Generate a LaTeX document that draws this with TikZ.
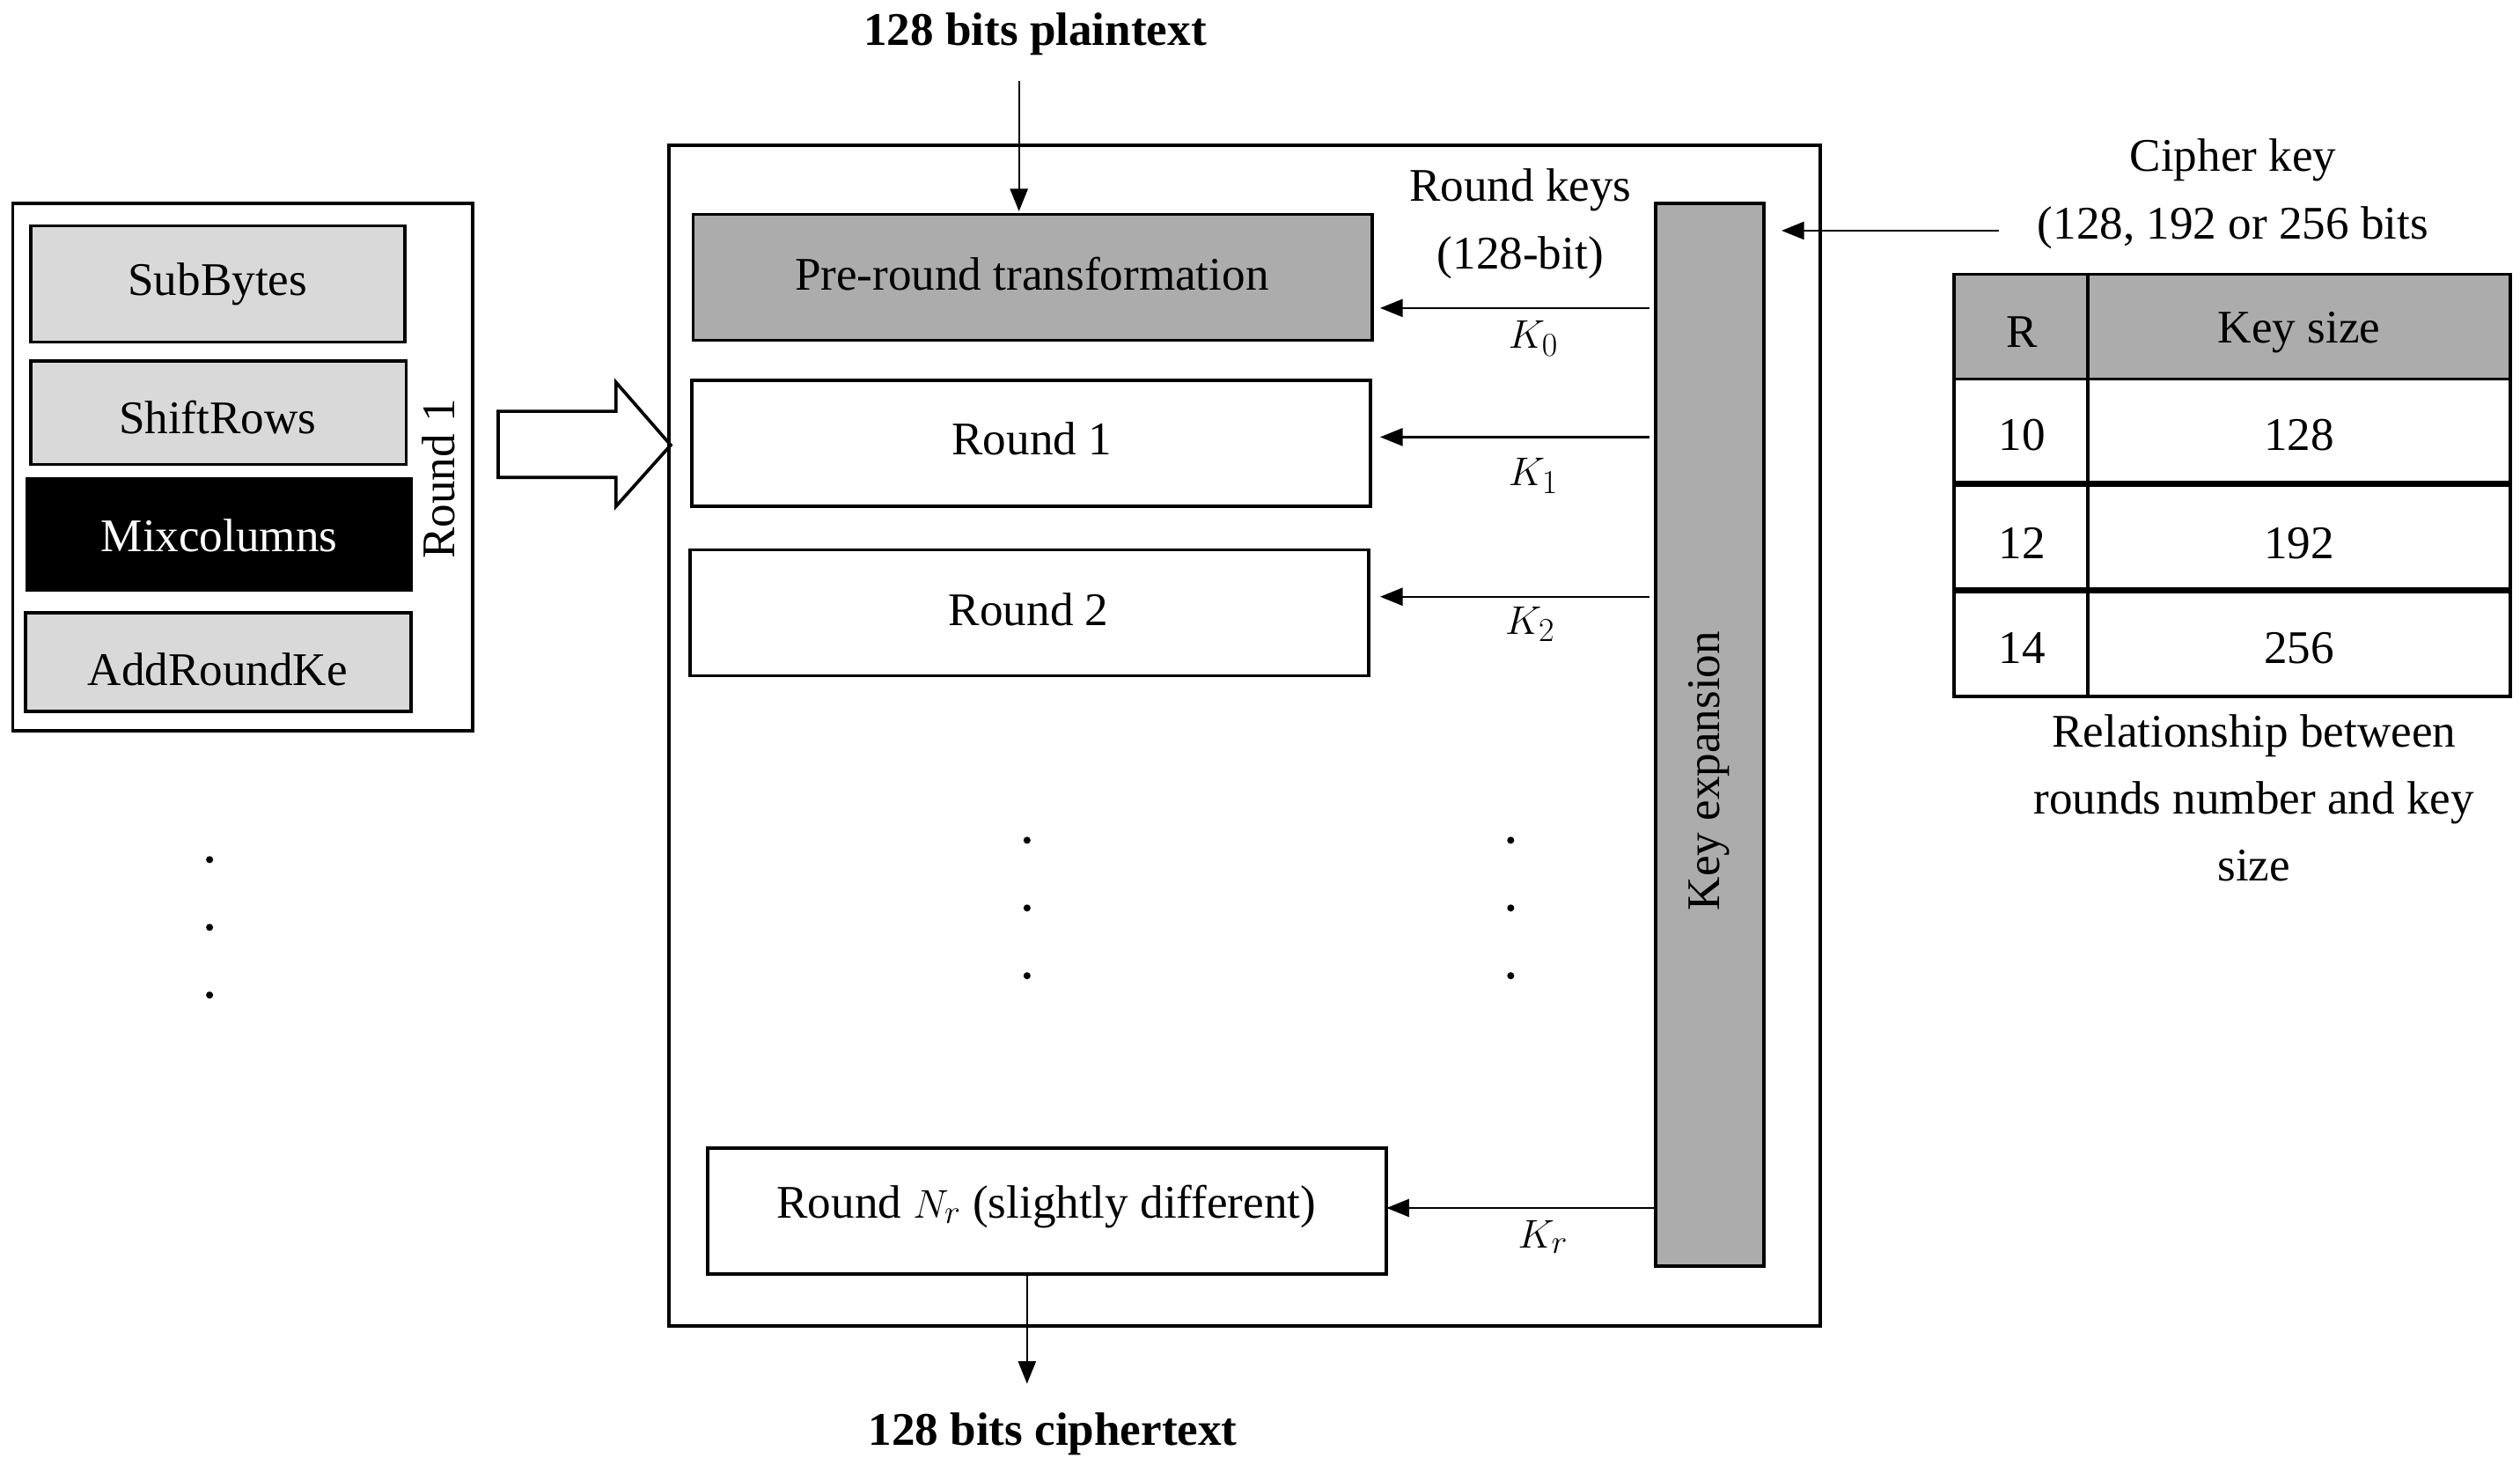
\documentclass[tikz,border=0pt]{standalone}
\usepackage{fontspec}
\setmainfont{Liberation Serif}
\usetikzlibrary{arrows.meta,shapes.arrows}
\begin{document}
\begin{tikzpicture}[x=1pt,y=-1pt,
 font=\fontsize{29}{33}\selectfont,
 box/.style={draw,line width=2pt,inner sep=0},
 arr/.style={-{Triangle[length=14pt,width=11pt]},line width=1.2pt},
 lbl/.style={inner sep=0}]
\useasboundingbox (0,0) rectangle (1563,913);
% left box
\draw[line width=2pt] (8,126) rectangle (293,453);
\draw[box,fill=gray!30] (19,140) rectangle (251,212); \node[lbl] (sb) at (135,176) {SubBytes};
\draw[box,fill=gray!30] (19,224) rectangle (252,288); \node[lbl] (sr) at (135,259) {ShiftRows};
\draw[box,fill=black] (17,297) rectangle (255,366); \node[lbl,text=white] (mc) at (136,332) {Mixcolumns};
\draw[box,fill=gray!30] (16,380) rectangle (255,441); \node[lbl] (ark) at (135,415) {AddRoundKe};
\node[lbl,rotate=90] (r1lab) at (272,297) {Round 1};
\foreach \y in {533,575,617} \fill (130,\y) circle (2.2);
% hollow arrow
\draw[line width=2pt] (309,255) -- (382,255) -- (382,237) -- (416,276) -- (382,314) -- (382,296) -- (309,296) -- cycle;
% main box
\draw[line width=2pt] (415,90) rectangle (1129,822);
\draw[box,fill=gray!65] (430,133) rectangle (851,211); \node[lbl] (pre) at (640,170) {Pre-round transformation};
\draw[box] (429,236) rectangle (850,314); \node[lbl] (r1) at (640,272) {Round 1};
\draw[box] (428,341) rectangle (849,419); \node[lbl] (r2) at (638,378) {Round 2};
\draw[box] (439,712) rectangle (860,790); \node[lbl] (rn) at (649,748) {Round $N_r$ (slightly different)};
\foreach \y in {521,563,605} {\fill (637,\y) circle (2.2); \fill (937,\y) circle (2.2);}
\draw[box,fill=gray!65] (1027,126) rectangle (1094,785);
\node[lbl,rotate=90] (ke) at (1060,478) {Key expansion};
\coordinate (a0) at (1023,191); \coordinate (b0) at (856,191);
\coordinate (a1) at (1023,271); \coordinate (b1) at (856,271);
\coordinate (a2) at (1023,370); \coordinate (b2) at (856,370);
\coordinate (ar) at (1027,749); \coordinate (br) at (860,749);
\draw[arr] (a0) -- (b0); \draw[arr] (a1) -- (b1); \draw[arr] (a2) -- (b2); \draw[arr] (ar) -- (br);
\node[lbl] (k0) at (951,210) {$K_0$};
\node[lbl] (k1) at (951,295) {$K_1$};
\node[lbl] (k2) at (949,387) {$K_2$};
\node[lbl] (kr) at (957,767) {$K_r$};
\node[lbl] (rk) at (943,118) {Round keys};
\node[lbl] (rk2) at (943,160) {(128-bit)};
% plaintext / ciphertext
\node[lbl,font=\fontsize{29}{33}\selectfont\bfseries] (pt) at (642,21) {128 bits plaintext};
\coordinate (p1) at (632,50); \coordinate (p2) at (632,131);
\draw[arr] (p1) -- (p2);
\coordinate (c1) at (637,790); \coordinate (c2) at (637,858);
\draw[arr] (c1) -- (c2);
\node[lbl,font=\fontsize{29}{33}\selectfont\bfseries] (ct) at (653,889) {128 bits ciphertext};
% cipher key
\node[lbl] (ck) at (1385,99) {Cipher key};
\node[lbl] (ck2) at (1385,141) {(128, 192 or 256 bits};
\coordinate (k1s) at (1240,143); \coordinate (k1e) at (1105,143);
\draw[arr] (k1s) -- (k1e);
% table
\fill[gray!65] (1212,170) rectangle (1557,235);
\draw[line width=2pt] (1212,170) rectangle (1557,432);
\draw[line width=2pt] (1295,170) -- (1295,432);
\draw[line width=2pt] (1212,235) -- (1557,235);
\draw[line width=4pt] (1212,300) -- (1557,300);
\draw[line width=4pt] (1212,366) -- (1557,366);
\node[lbl] (th1) at (1254,206) {R};
\node[lbl] (th2) at (1426,206) {Key size};
\node[lbl] (t11) at (1254,270) {10}; \node[lbl] (t12) at (1426,270) {128};
\node[lbl] (t21) at (1254,337) {12}; \node[lbl] (t22) at (1426,337) {192};
\node[lbl] (t31) at (1254,402) {14}; \node[lbl] (t32) at (1426,402) {256};
\node[lbl,align=center,font=\fontsize{29}{41.5}\selectfont] (cap) at (1398,495) {Relationship between\\rounds number and key\\size};
\end{tikzpicture}
\end{document}
